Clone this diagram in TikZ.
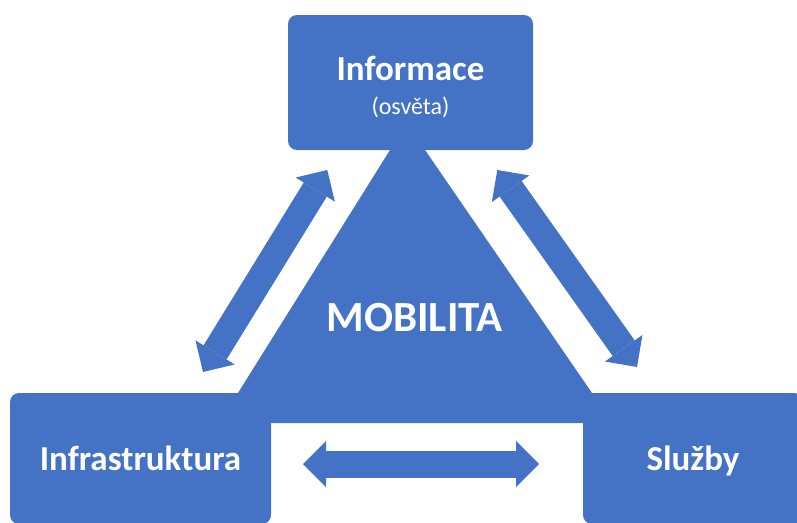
\documentclass[tikz,border=0pt]{standalone}
\usepackage{fontspec,xcolor,tikz}
\setmainfont{Carlito}
\usetikzlibrary{arrows.meta}
\definecolor{modra}{HTML}{4472C4}
\newcommand{\velky}{\fontsize{35}{40}\selectfont\bfseries}
\newcommand{\mensi}{\fontsize{24}{26}\selectfont\mdseries}
\tikzset{blok/.style={fill=modra,rounded corners=9pt,text=white,font=\velky,
    inner sep=0pt,align=center},
  obousmer/.style={modra,line width=27pt,
    {Triangle[length=23pt,width=46pt,line width=0pt 0 0]}-{Triangle[length=23pt,width=46pt,line width=0pt 0 0]}}}

\begin{document}
\begin{tikzpicture}[x=1pt,y=-1pt]
\useasboundingbox (0,0) rectangle (797,522);
% trojuhelnik v pozadi
\fill[modra] (406.7,123.3) -- (612.6,423) -- (219.2,423) -- cycle;
\node[blok,minimum width=245pt,minimum height=135pt] (info) at (410.5,82.5)
  {\rule{0pt}{34pt}Informace\\[-6pt]\mensi (osvěta)};
\node[blok,minimum width=261pt,minimum height=131pt,text depth=0pt] (infra) at (140.5,458.5) {Infrastruktura};
\node[blok,minimum width=220pt,minimum height=131pt,text depth=0pt] (sluzby) at (693,458.5) {Služby};
\node[text=white,font=\fontsize{43}{48}\selectfont\bfseries,inner sep=0pt] (mob) at (414.5,318) {MOBILITA};
\coordinate (lh) at (327.3,170);
\coordinate (ld) at (203,372);
\coordinate (ph) at (497.3,170);
\coordinate (pd) at (637,367);
\coordinate (hl) at (303,464);
\coordinate (hp) at (539,464);
\draw[obousmer] (ld) -- (lh);
\draw[obousmer] (ph) -- (pd);
\draw[obousmer] (hl) -- (hp);
\end{tikzpicture}
\end{document}
